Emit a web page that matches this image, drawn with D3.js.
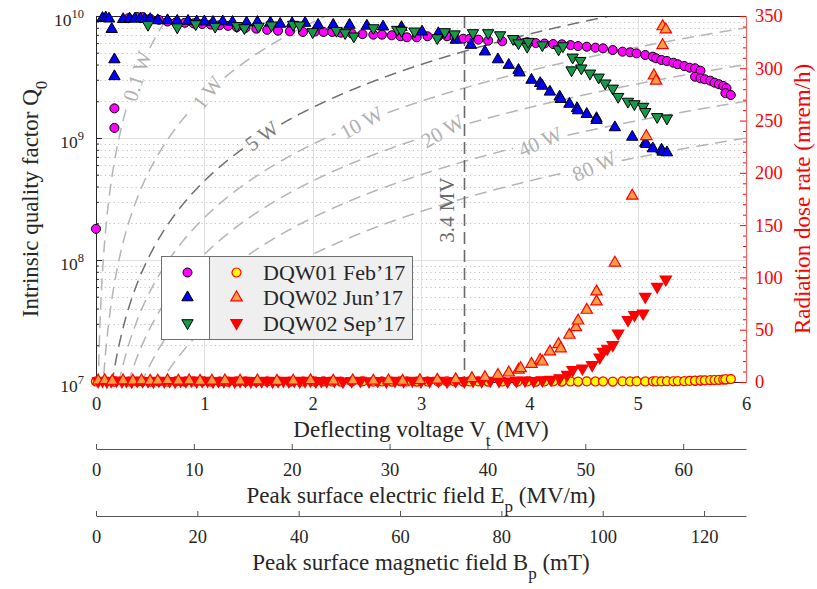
<!DOCTYPE html>
<html>
<head>
<meta charset="utf-8">
<script src="https://cdn.jsdelivr.net/npm/d3@7/dist/d3.min.js"></script>
<style>
  html, body { margin: 0; padding: 0; background: #fff; }
  svg { display: block; }
</style>
</head>
<body>
<svg id="chart" width="817" height="589" viewBox="0 0 817 589"></svg>
<script>
// ---------------------------------------------------------------------------
// Physics constants for the DQW crab cavity
// ---------------------------------------------------------------------------
const VOLT_MAX = 6;          // MV
const RQ_OHM = 450;          // transverse R/Q used for the iso-power lines
const EP_PER_MV = 11.07;     // peak surface electric field, MV/m per MV
const BP_PER_MV = 21.38;     // peak surface magnetic field, mT per MV
const VOLT_MARK = 3.4;       // nominal deflecting voltage, MV

// Axis ticks
const voltTicks = [0, 1, 2, 3, 4, 5, 6];
const epTicks = [0, 10, 20, 30, 40, 50, 60];
const bpTicks = [0, 20, 40, 60, 80, 100, 120];
const rateTicks = [0, 50, 100, 150, 200, 250, 300, 350];
const q0Ticks = [1e7, 1e8, 1e9, 1e10];
const q0TickExp = ["7", "8", "9", "10"];

// Iso-power lines (W) and where their labels sit (MV, degrees)
const powerLevels = [0.1, 1, 5, 10, 20, 40, 80];
const powerLabelV = [0.38, 1.03, 1.53, 2.45, 3.2, 4.1, 4.6];
const powerLabelAngle = [-72, -52, -36, -29, -30, -24, -24];

// DQW01 Feb'17 : Q0 and radiation at the same voltages
const febV = [0, 0.17, 0.17, 0.3, 0.38, 0.43, 0.5, 0.58, 0.66, 0.74,
  0.82, 0.9, 0.98, 1.06, 1.14, 1.22, 1.3, 1.38, 1.48, 1.58,
  1.68, 1.79, 1.91, 2.02, 2.1, 2.18, 2.26, 2.36, 2.46, 2.56,
  2.64, 2.73, 2.81, 2.87, 2.96, 3.06, 3.16, 3.24, 3.31, 3.39,
  3.45, 3.53, 3.62, 3.75, 3.89, 3.98, 4.06, 4.14, 4.22, 4.30,
  4.38, 4.45, 4.53, 4.61, 4.68, 4.77, 4.86, 4.93, 4.99, 5.07,
  5.14, 5.17, 5.22, 5.27, 5.33, 5.37, 5.43, 5.48, 5.53, 5.58,
  5.53, 5.58, 5.62, 5.67, 5.71, 5.75, 5.79, 5.82, 5.81, 5.86];
const febQ0 = [1.8e8, 1.75e9, 1.21e9, 9.6e9, 9.8e9, 9.8e9, 9.5e9, 9.3e9, 9.0e9, 8.9e9,
  8.8e9, 8.7e9, 8.6e9, 8.5e9, 8.4e9, 8.3e9, 8.1e9, 8.0e9, 7.87e9, 7.7e9,
  7.58e9, 7.49e9, 7.4e9, 7.45e9, 7.4e9, 7.4e9, 7.3e9, 7.2e9, 7.1e9, 7.03e9,
  7.03e9, 6.95e9, 6.82e9, 6.69e9, 6.69e9, 6.82e9, 6.82e9, 6.82e9, 6.69e9, 6.52e9,
  6.52e9, 6.4e9, 6.28e9, 6.21e9, 6.21e9, 6.1e9, 6.0e9, 5.95e9, 5.89e9, 5.86e9,
  5.78e9, 5.67e9, 5.6e9, 5.5e9, 5.43e9, 5.26e9, 5.1e9, 5.04e9, 4.94e9, 4.79e9,
  4.64e9, 4.5e9, 4.36e9, 4.28e9, 4.14e9, 4.02e9, 3.89e9, 3.77e9, 3.73e9, 3.56e9,
  3.18e9, 3.08e9, 3.03e9, 2.95e9, 2.84e9, 2.76e9, 2.67e9, 2.56e9, 2.33e9, 2.25e9];
const febDose = [0.5, 0.6, 0.4, 0.5, 0.3, 0.6, 0.4, 0.5, 0.3, 0.6,
  0.4, 0.5, 0.6, 0.3, 0.5, 0.4, 0.6, 0.5, 0.3, 0.5,
  0.6, 0.4, 0.5, 0.3, 0.6, 0.5, 0.4, 0.5, 0.6, 0.3,
  0.5, 0.4, 0.6, 0.5, 0.4, 0.5, 0.3, 0.6, 0.5, 0.4,
  0.5, 0.6, 0.4, 0.5, 0.3, 0.5, 0.4, 0.6, 0.5, 0.4,
  0.5, 0.4, 0.6, 0.5, 0.5, 0.4, 0.6, 0.5, 0.6, 0.5,
  0.6, 0.7, 0.6, 0.8, 0.7, 0.9, 0.8, 1.0, 1.1, 1.2,
  1.3, 1.5, 1.6, 1.8, 1.9, 2.1, 2.3, 2.5, 2.6, 2.8];

// DQW02 Jun'17 : Q0
const junV = [0.06, 0.09, 0.12, 0.145, 0.17, 0.17, 0.25, 0.31, 0.36, 0.41,
  0.45, 0.5, 0.57, 0.66, 0.75, 0.85, 0.93, 1.0, 1.08, 1.17,
  1.26, 1.39, 1.49, 1.61, 1.7, 1.81, 1.93, 2.05, 2.19, 2.34,
  2.5, 2.65, 2.82, 3.01, 3.16, 3.32, 3.46, 3.59, 3.71, 3.81,
  3.9, 3.91, 4.02, 4.1, 4.12, 4.19, 4.28, 4.29, 4.37, 4.44,
  4.45, 4.53, 4.62, 4.62, 4.79, 4.95, 5.07, 5.08, 5.14, 5.22,
  5.23, 5.27];
const junQ0 = [9.6e9, 9.7e9, 9.5e9, 7.8e9, 4.4e9, 3.2e9, 9.4e9, 9.5e9, 9.5e9, 9.5e9,
  9.4e9, 9.4e9, 9.2e9, 9.2e9, 9.1e9, 9.1e9, 9.0e9, 9.0e9, 8.9e9, 9.0e9,
  8.9e9, 8.8e9, 8.9e9, 8.8e9, 8.6e9, 8.7e9, 8.76e9, 8.44e9, 8.44e9, 8.44e9,
  8.3e9, 8.17e9, 8.08e9, 7.43e9, 7.2e9, 6.36e9, 5.78e9, 5.1e9, 4.4e9, 3.96e9,
  3.6e9, 3.43e9, 2.99e9, 2.81e9, 2.67e9, 2.39e9, 2.18e9, 2.08e9, 1.9e9, 1.75e9,
  1.68e9, 1.57e9, 1.45e9, 1.4e9, 1.22e9, 1.02e9, 9.1e8, 8.9e8, 8.2e8, 8.0e8,
  7.7e8, 7.6e8];
// DQW02 Jun'17 : radiation
const junDoseV = [0.02, 0.08, 0.15, 0.25, 0.34, 0.42, 0.5, 0.57, 0.66, 0.76,
  0.86, 0.96, 1.07, 1.19, 1.33, 1.49, 1.67, 1.82, 1.98, 2.19,
  2.37, 2.56, 2.7, 2.83, 2.99, 3.15, 3.32, 3.47, 3.59, 3.71,
  3.81, 3.9, 3.92, 4.02, 4.1, 4.12, 4.19, 4.27, 4.29, 4.37,
  4.43, 4.45, 4.53, 4.62, 4.62, 4.79, 4.95, 5.08, 5.15, 5.17,
  5.23, 5.23, 5.26];
const junDose = [1.2, 1.5, 1.0, 1.3, 1.1, 1.4, 1.0, 1.2, 1.5, 1.1,
  1.3, 1.0, 1.2, 1.4, 1.1, 1.3, 1.0, 1.2, 1.5, 1.1,
  1.3, 1.2, 1.4, 1.0, 1.6, 2.0, 2.4, 3.5, 4.5, 6.7,
  8.9, 11.5, 13.1, 17.2, 21, 19.4, 29, 36, 32, 45,
  52.3, 58.6, 68.9, 76.8, 86.4, 114, 178, 235, 293, 288,
  322, 340, 337];

// DQW02 Sep'17 : Q0
const sepV = [0.48, 0.75, 0.92, 1.1, 1.3, 1.37, 1.5, 1.62, 1.82, 1.88,
  2.0, 2.22, 2.3, 2.38, 2.56, 2.78, 2.82, 2.94, 3.15, 3.22,
  3.31, 3.48, 3.62, 3.73, 3.85, 3.9, 3.98, 3.99, 4.12, 4.27,
  4.31, 4.4, 4.47, 4.39, 4.48, 4.56, 4.64, 4.7, 4.77, 4.82,
  4.91, 4.97, 5.05, 5.07, 5.18, 5.27];
const sepQ0 = [8.5e9, 8.1e9, 8.6e9, 8.2e9, 8.3e9, 7.97e9, 8.2e9, 8.4e9, 8.5e9, 8.4e9,
  7.4e9, 7.58e9, 7.26e9, 6.82e9, 7.97e9, 7.73e9, 7.6e9, 7.49e9, 6.6e9, 7.4e9,
  7.1e9, 7.26e9, 7.26e9, 6.98e9, 6.5e9, 6.0e9, 5.62e9, 6.16e9, 5.78e9, 5.34e9,
  5.67e9, 4.58e9, 4.3e9, 3.6e9, 3.73e9, 3.39e9, 3.14e9, 2.81e9, 2.55e9, 2.18e9,
  1.99e9, 1.9e9, 1.81e9, 1.64e9, 1.49e9, 1.45e9];
// DQW02 Sep'17 : radiation
const sepDoseV = [0.02, 0.06, 0.1, 0.14, 0.19, 0.24, 0.28, 0.33, 0.38, 0.43,
  0.48, 0.53, 0.58, 0.63, 0.68, 0.73, 0.78, 0.83, 0.88, 0.93,
  0.98, 1.03, 1.08, 1.13, 1.18, 1.23, 1.28, 1.33, 1.38, 1.43,
  1.48, 1.53, 1.58, 1.63, 1.68, 1.73, 1.78, 1.83, 1.88, 1.93,
  1.98, 2.03, 2.08, 2.13, 2.2, 2.28, 2.36, 2.44, 2.52, 2.6,
  2.68, 2.76, 2.84, 2.92, 3.0, 3.08, 3.16, 3.24, 3.32, 3.4,
  3.48, 3.56, 3.64, 3.72, 3.8, 3.88, 3.96, 4.04, 4.12, 4.2,
  4.28, 4.35, 4.40, 4.49, 4.58, 4.65, 4.68, 4.72, 4.77, 4.82,
  4.91, 4.97, 5.05, 5.07, 5.18, 5.26];
const sepDose = [0.8, 1.2, 0.5, 1.0, 1.5, 0.7, 1.1, 0.4, 1.3, 0.9,
  1.0, 0.6, 1.4, 0.8, 1.1, 0.5, 1.2, 0.9, 1.5, 0.7,
  1.0, 1.3, 0.6, 1.1, 0.8, 1.4, 0.5, 1.0, 1.2, 0.7,
  1.1, 0.9, 1.4, 0.6, 1.0, 1.3, 0.8, 1.2, 0.5, 1.0,
  1.4, 0.7, 1.1, 0.9, 1.2, 0.6, 1.0, 1.3, 0.8, 1.1,
  0.5, 1.2, 0.9, 1.4, 0.7, 1.0, 1.3, 0.6, 1.1, 0.8,
  1.2, 0.9, 1.4, 1.0, 0.7, 1.2, 1.5, 1.0, 1.8, 2.2,
  3.8, 7.0, 11.5, 13.1, 16.3, 23.6, 29, 32, 35.4, 46.6,
  59.3, 64.1, 65.7, 81.6, 91.1, 98.2];

const legendLabels = ["DQW01 Feb\u201917", "DQW02 Jun\u201917", "DQW02 Sep\u201917"];

// ---------------------------------------------------------------------------
// Layout and scales
// ---------------------------------------------------------------------------
const FONT = "'Liberation Serif'";
const svg = d3.select("#chart");
const M = { left: 96, right: 746, top: 16, bottom: 382 };
const INK = "#262626";
const RED = "#ff0000";
const TICK_FONT = 18.5;
const TITLE_FONT = 23;
const crisp = v => Math.round(v) + 0.5;

const x = d3.scaleLinear([0, VOLT_MAX], [M.left, M.right]);
const yQ = d3.scaleLog([1e7, 1e10], [M.bottom, M.top]);
const yR = d3.scaleLinear([0, 350], [M.bottom, M.top]);
const xE = d3.scaleLinear([0, VOLT_MAX * EP_PER_MV], [M.left, M.right]);
const xB = d3.scaleLinear([0, VOLT_MAX * BP_PER_MV], [M.left, M.right]);
const intFmt = d3.format("d");

svg.append("defs").append("clipPath").attr("id", "plotClip")
  .append("rect").attr("x", M.left).attr("y", M.top)
  .attr("width", M.right - M.left).attr("height", M.bottom - M.top);

// ---------------------------------------------------------------------------
// Grid
// ---------------------------------------------------------------------------
const grid = svg.append("g");
const qAll = yQ.ticks();
const isDecade = d => Math.abs(Math.log10(d) - Math.round(Math.log10(d))) < 1e-6;
const qMinor = qAll.filter(d => !isDecade(d));

grid.selectAll("line.qmin").data(qMinor).join("line")
  .attr("x1", M.left).attr("x2", M.right)
  .attr("y1", d => crisp(yQ(d))).attr("y2", d => crisp(yQ(d)))
  .attr("stroke", "#c2c2c2").attr("stroke-width", 1).attr("stroke-dasharray", "1.2,3.2");
grid.selectAll("line.qmaj").data(q0Ticks.slice(1, -1)).join("line")
  .attr("x1", M.left).attr("x2", M.right)
  .attr("y1", d => crisp(yQ(d))).attr("y2", d => crisp(yQ(d)))
  .attr("stroke", "#e0e0e0").attr("stroke-width", 1);
grid.selectAll("line.vmaj").data(voltTicks.slice(1, -1)).join("line")
  .attr("x1", d => crisp(x(d))).attr("x2", d => crisp(x(d)))
  .attr("y1", M.top).attr("y2", M.bottom)
  .attr("stroke", "#e0e0e0").attr("stroke-width", 1);

// ---------------------------------------------------------------------------
// Iso-power lines: Q0 = Vt^2 / (R/Q * P)
// ---------------------------------------------------------------------------
const isoG = svg.append("g").attr("clip-path", "url(#plotClip)");
const isoLabelG = svg.append("g");
const isoLine = "#b5b5b5", isoText = "#b0b0b0";
const isoDark = "#6f6f6f", isoDarkText = "#7c7c7c";
const sampleV = d3.range(0.002, VOLT_MAX + 0.0005, 0.002);

powerLevels.forEach((P, i) => {
  const q0 = v => (v * 1e6) * (v * 1e6) / (RQ_OHM * P);
  const dark = P === 5;
  const vL = powerLabelV[i];
  const cx = x(vL), cy = yQ(q0(vL));
  const label = isoLabelG.append("text")
    .style("font-family", FONT)
    .attr("transform", `translate(${cx},${cy}) rotate(${powerLabelAngle[i]})`)
    .attr("text-anchor", "middle").attr("dy", "0.34em")
    .attr("font-size", 21).attr("fill", dark ? isoDarkText : isoText)
    .text(`${P} W`);
  const half = label.node().getComputedTextLength() / 2 + 5;
  const line = d3.line()
    .defined(v => Math.hypot(x(v) - cx, yQ(q0(v)) - cy) > half)
    .x(v => x(v)).y(v => yQ(q0(v)));
  isoG.append("path").attr("d", line(sampleV))
    .attr("fill", "none").attr("stroke", dark ? isoDark : isoLine)
    .attr("stroke-width", 1.5).attr("stroke-dasharray", "12,7");
});

// Nominal voltage marker
const xm = crisp(x(VOLT_MARK));
svg.append("line").attr("x1", xm).attr("x2", xm).attr("y1", M.top).attr("y2", M.bottom)
  .attr("stroke", "#6a6a6a").attr("stroke-width", 1.6).attr("stroke-dasharray", "12,6");
svg.append("text")
  .attr("transform", `translate(${xm - 11},210) rotate(-90)`)
  .attr("text-anchor", "middle").attr("font-size", 21).attr("fill", "#6a6a6a")
  .text(`${VOLT_MARK} MV`);

// ---------------------------------------------------------------------------
// Axes
// ---------------------------------------------------------------------------
const axes = svg.append("g");
// top border
axes.append("line").attr("x1", M.left).attr("x2", M.right + 0.5)
  .attr("y1", crisp(M.top)).attr("y2", crisp(M.top)).attr("stroke", INK);

// bottom voltage axis, ticks inside
const xAxisG = axes.append("g").attr("transform", `translate(0,${M.bottom})`)
  .call(d3.axisBottom(x).tickValues(voltTicks).tickFormat(intFmt)
    .tickSizeInner(-6).tickSizeOuter(0).tickPadding(14.5));
// left Q0 axis, ticks inside
const yAxisG = axes.append("g").attr("transform", `translate(${M.left},0)`)
  .call(d3.axisLeft(yQ).tickValues(q0Ticks).tickSizeInner(-6).tickSizeOuter(0).tickFormat(""));
const yMinorG = axes.append("g").attr("transform", `translate(${M.left},0)`)
  .call(d3.axisLeft(yQ).tickValues(qMinor).tickSizeInner(-3).tickSizeOuter(0).tickFormat(""));
yMinorG.select(".domain").remove();
// right dose-rate axis, ticks inside
const rAxisG = axes.append("g").attr("transform", `translate(${M.right},0)`)
  .call(d3.axisRight(yR).tickValues(rateTicks).tickFormat(intFmt)
    .tickSizeInner(-6).tickSizeOuter(0).tickPadding(9));
const rMinorG = axes.append("g").attr("transform", `translate(${M.right},0)`)
  .call(d3.axisRight(yR).tickValues(d3.range(10, 350, 10).filter(d => d % 50 !== 0))
    .tickSizeInner(-3).tickSizeOuter(0).tickFormat(""));
rMinorG.select(".domain").remove();

[xAxisG, yAxisG, yMinorG].forEach(g => {
  g.attr("font-size", TICK_FONT);
  g.selectAll("path,line").attr("stroke", INK);
  g.selectAll("text").attr("fill", INK);
});
[rAxisG, rMinorG].forEach(g => {
  g.attr("font-size", TICK_FONT);
  g.selectAll("line").attr("stroke", RED);
  g.selectAll("text").attr("fill", RED);
});
rAxisG.select(".domain").attr("stroke", "#ff5c5c");

// left tick labels: 10^n
const qLab = axes.append("g").attr("fill", INK);
q0Ticks.forEach((d, i) => {
  const t = qLab.append("text").attr("x", M.left - 12).attr("y", yQ(d) + 9.5)
    .attr("text-anchor", "end").attr("font-size", 17.5);
  t.append("tspan").text("10");
  t.append("tspan").attr("font-size", 12.5).attr("dy", -8).text(q0TickExp[i]);
});

// secondary field axes under the plot
function fieldAxis(scale, ticks, y0) {
  const g = axes.append("g").attr("transform", `translate(0,${y0})`)
    .call(d3.axisBottom(scale).tickValues(ticks).tickFormat(intFmt)
      .tickSizeInner(-5).tickSizeOuter(0).tickPadding(13.5));
  g.attr("font-size", TICK_FONT);
  g.selectAll("path,line").attr("stroke", "#555");
  g.selectAll("text").attr("fill", INK);
  return g;
}
fieldAxis(xE, epTicks, 449);
fieldAxis(xB, bpTicks, 516);

// ---------------------------------------------------------------------------
// Axis titles
// ---------------------------------------------------------------------------
const cxPlot = (M.left + M.right) / 2;
const cyPlot = (M.top + M.bottom) / 2;
function titleWithSub(g, pre, sub, post) {
  g.append("tspan").text(pre);
  g.append("tspan").attr("font-size", 17).attr("dy", 9).text(sub);
  if (post) g.append("tspan").attr("dy", -9).text(post);
}
titleWithSub(svg.append("text").attr("x", cxPlot).attr("y", 437)
  .attr("text-anchor", "middle").attr("font-size", TITLE_FONT).attr("fill", INK),
  "Deflecting voltage V", "t", " (MV)");
titleWithSub(svg.append("text").attr("x", cxPlot).attr("y", 503)
  .attr("text-anchor", "middle").attr("font-size", TITLE_FONT).attr("fill", INK),
  "Peak surface electric field E", "p", " (MV/m)");
titleWithSub(svg.append("text").attr("x", cxPlot).attr("y", 570)
  .attr("text-anchor", "middle").attr("font-size", TITLE_FONT).attr("fill", INK),
  "Peak surface magnetic field B", "p", " (mT)");
titleWithSub(svg.append("text").attr("transform", `translate(38,${cyPlot}) rotate(-90)`)
  .attr("text-anchor", "middle").attr("font-size", TITLE_FONT).attr("fill", INK),
  "Intrinsic quality factor Q", "0", null);
svg.append("text").attr("transform", `translate(810,${cyPlot}) rotate(-90)`)
  .attr("text-anchor", "middle").attr("font-size", TITLE_FONT).attr("fill", RED)
  .text("Radiation dose rate (mrem/h)");

// ---------------------------------------------------------------------------
// Data markers
// ---------------------------------------------------------------------------
const CIRCLE = d3.symbol(d3.symbolCircle, 64)();
const TRI = d3.symbol(d3.symbolTriangle, 56)();
const shapes = {
  circle: { d: CIRCLE, rot: "" },
  up: { d: TRI, rot: "" },
  down: { d: TRI, rot: " rotate(180)" }
};
const styles = {
  feb: { shape: "circle", fill: "#ff00ff", stroke: "#000", sw: 1 },
  jun: { shape: "up", fill: "#0000ff", stroke: "#000", sw: 1 },
  sep: { shape: "down", fill: "#17994a", stroke: "#000", sw: 1 },
  febR: { shape: "circle", fill: "#ffff00", stroke: RED, sw: 1.2 },
  junR: { shape: "up", fill: "#ff9f45", stroke: RED, sw: 1.2 },
  sepR: { shape: "down", fill: RED, stroke: RED, sw: 1.2 }
};

function drawSeries(vs, vals, yScale, st) {
  const s = shapes[st.shape];
  svg.append("g").selectAll("path").data(d3.zip(vs, vals)).join("path")
    .attr("d", s.d)
    .attr("transform", d => `translate(${x(d[0])},${yScale(d[1])})${s.rot}`)
    .attr("fill", st.fill).attr("stroke", st.stroke).attr("stroke-width", st.sw);
}
drawSeries(febV, febQ0, yQ, styles.feb);
drawSeries(junV, junQ0, yQ, styles.jun);
drawSeries(sepV, sepQ0, yQ, styles.sep);
drawSeries(febV, febDose, yR, styles.febR);
drawSeries(sepDoseV, sepDose, yR, styles.sepR);
drawSeries(junDoseV, junDose, yR, styles.junR);

// ---------------------------------------------------------------------------
// Legend: Q0 markers on the left, radiation markers with labels on the right
// ---------------------------------------------------------------------------
const lg = svg.append("g");
const L = { x0: 161.5, xDiv: 209.5, x1: 412.5, y0: 256.5, y1: 339.5 };
lg.append("rect").attr("x", L.x0).attr("y", L.y0).attr("width", L.xDiv - L.x0)
  .attr("height", L.y1 - L.y0).attr("fill", "#fff");
lg.append("rect").attr("x", L.xDiv).attr("y", L.y0).attr("width", L.x1 - L.xDiv)
  .attr("height", L.y1 - L.y0).attr("fill", "#efefef");
lg.append("rect").attr("x", L.x0).attr("y", L.y0).attr("width", L.x1 - L.x0)
  .attr("height", L.y1 - L.y0).attr("fill", "none").attr("stroke", "#6f6f6f");
lg.append("line").attr("x1", L.xDiv).attr("x2", L.xDiv).attr("y1", L.y0).attr("y2", L.y1)
  .attr("stroke", "#6f6f6f");
const rowY = [272.5, 297.5, 323];
const leftStyles = [styles.feb, styles.jun, styles.sep];
const rightStyles = [styles.febR, styles.junR, styles.sepR];
rowY.forEach((yy, i) => {
  [[187.5, leftStyles[i]], [236.5, rightStyles[i]]].forEach(([xx, st]) => {
    const s = shapes[st.shape];
    lg.append("path").attr("d", s.d).attr("transform", `translate(${xx},${yy})${s.rot}`)
      .attr("fill", st.fill).attr("stroke", st.stroke).attr("stroke-width", st.sw);
  });
  lg.append("text").attr("x", 263).attr("y", yy + 7.5).attr("font-size", 22)
    .attr("fill", INK).text(legendLabels[i]);
});

// every label in the figure uses the serif face
svg.selectAll("text").style("font-family", FONT);
</script>
</body>
</html>
